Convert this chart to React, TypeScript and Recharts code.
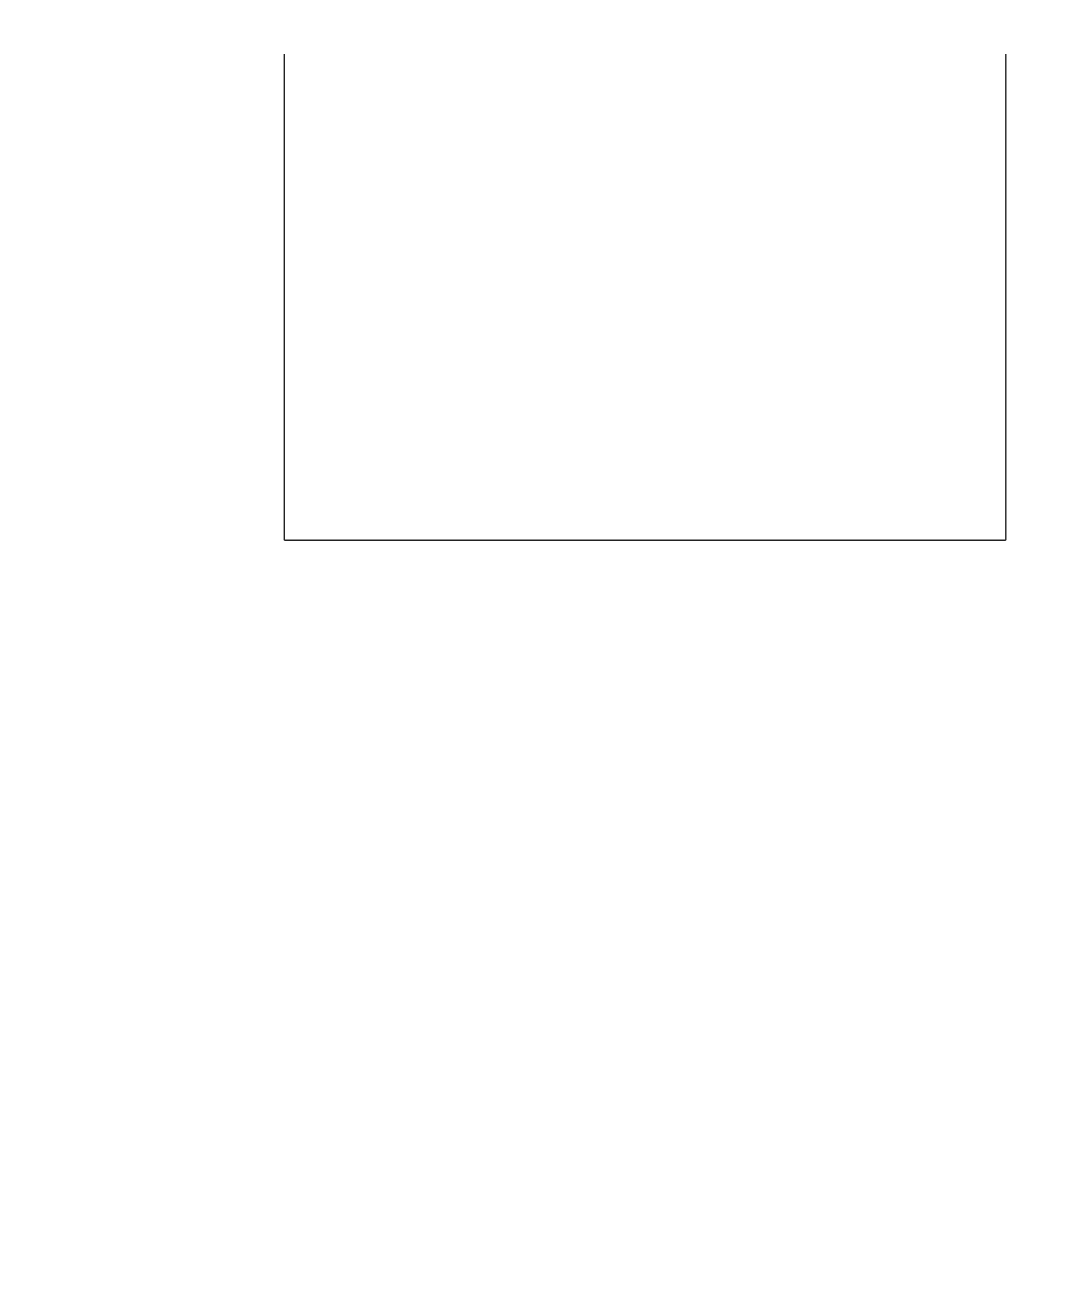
import React from 'react';
import { ComposedChart, Line, XAxis, YAxis } from 'recharts';

// the reference shows an empty frame: no marks, no ticks, no labels
const categories: string[] = ['a', 'b', 'c'];
const seriesValues: (number | null)[] = [null, null, null];

const data = categories.map((c, i) => ({ name: c, value: seriesValues[i] }));

const axisLine = { stroke: '#222', strokeWidth: 1.4 };

const App: React.FC = () => {
  return (
    <div style={{ width: 1064, height: 600 }}>
      <ComposedChart
        width={1064}
        height={600}
        data={data}
        margin={{ top: 46, right: 65.2, left: 275.3, bottom: 66.7 }}
      >
        <XAxis dataKey="name" height={1} tick={false} tickLine={false} axisLine={axisLine} />
        <YAxis yAxisId="left" orientation="left" width={1} tick={false} tickLine={false} axisLine={axisLine} domain={[0, 1]} />
        <YAxis yAxisId="right" orientation="right" width={1} tick={false} tickLine={false} axisLine={axisLine} domain={[0, 1]} />
        <Line yAxisId="left" dataKey="value" stroke="#222" dot={false} isAnimationActive={false} />
      </ComposedChart>
    </div>
  );
};

export default App;
